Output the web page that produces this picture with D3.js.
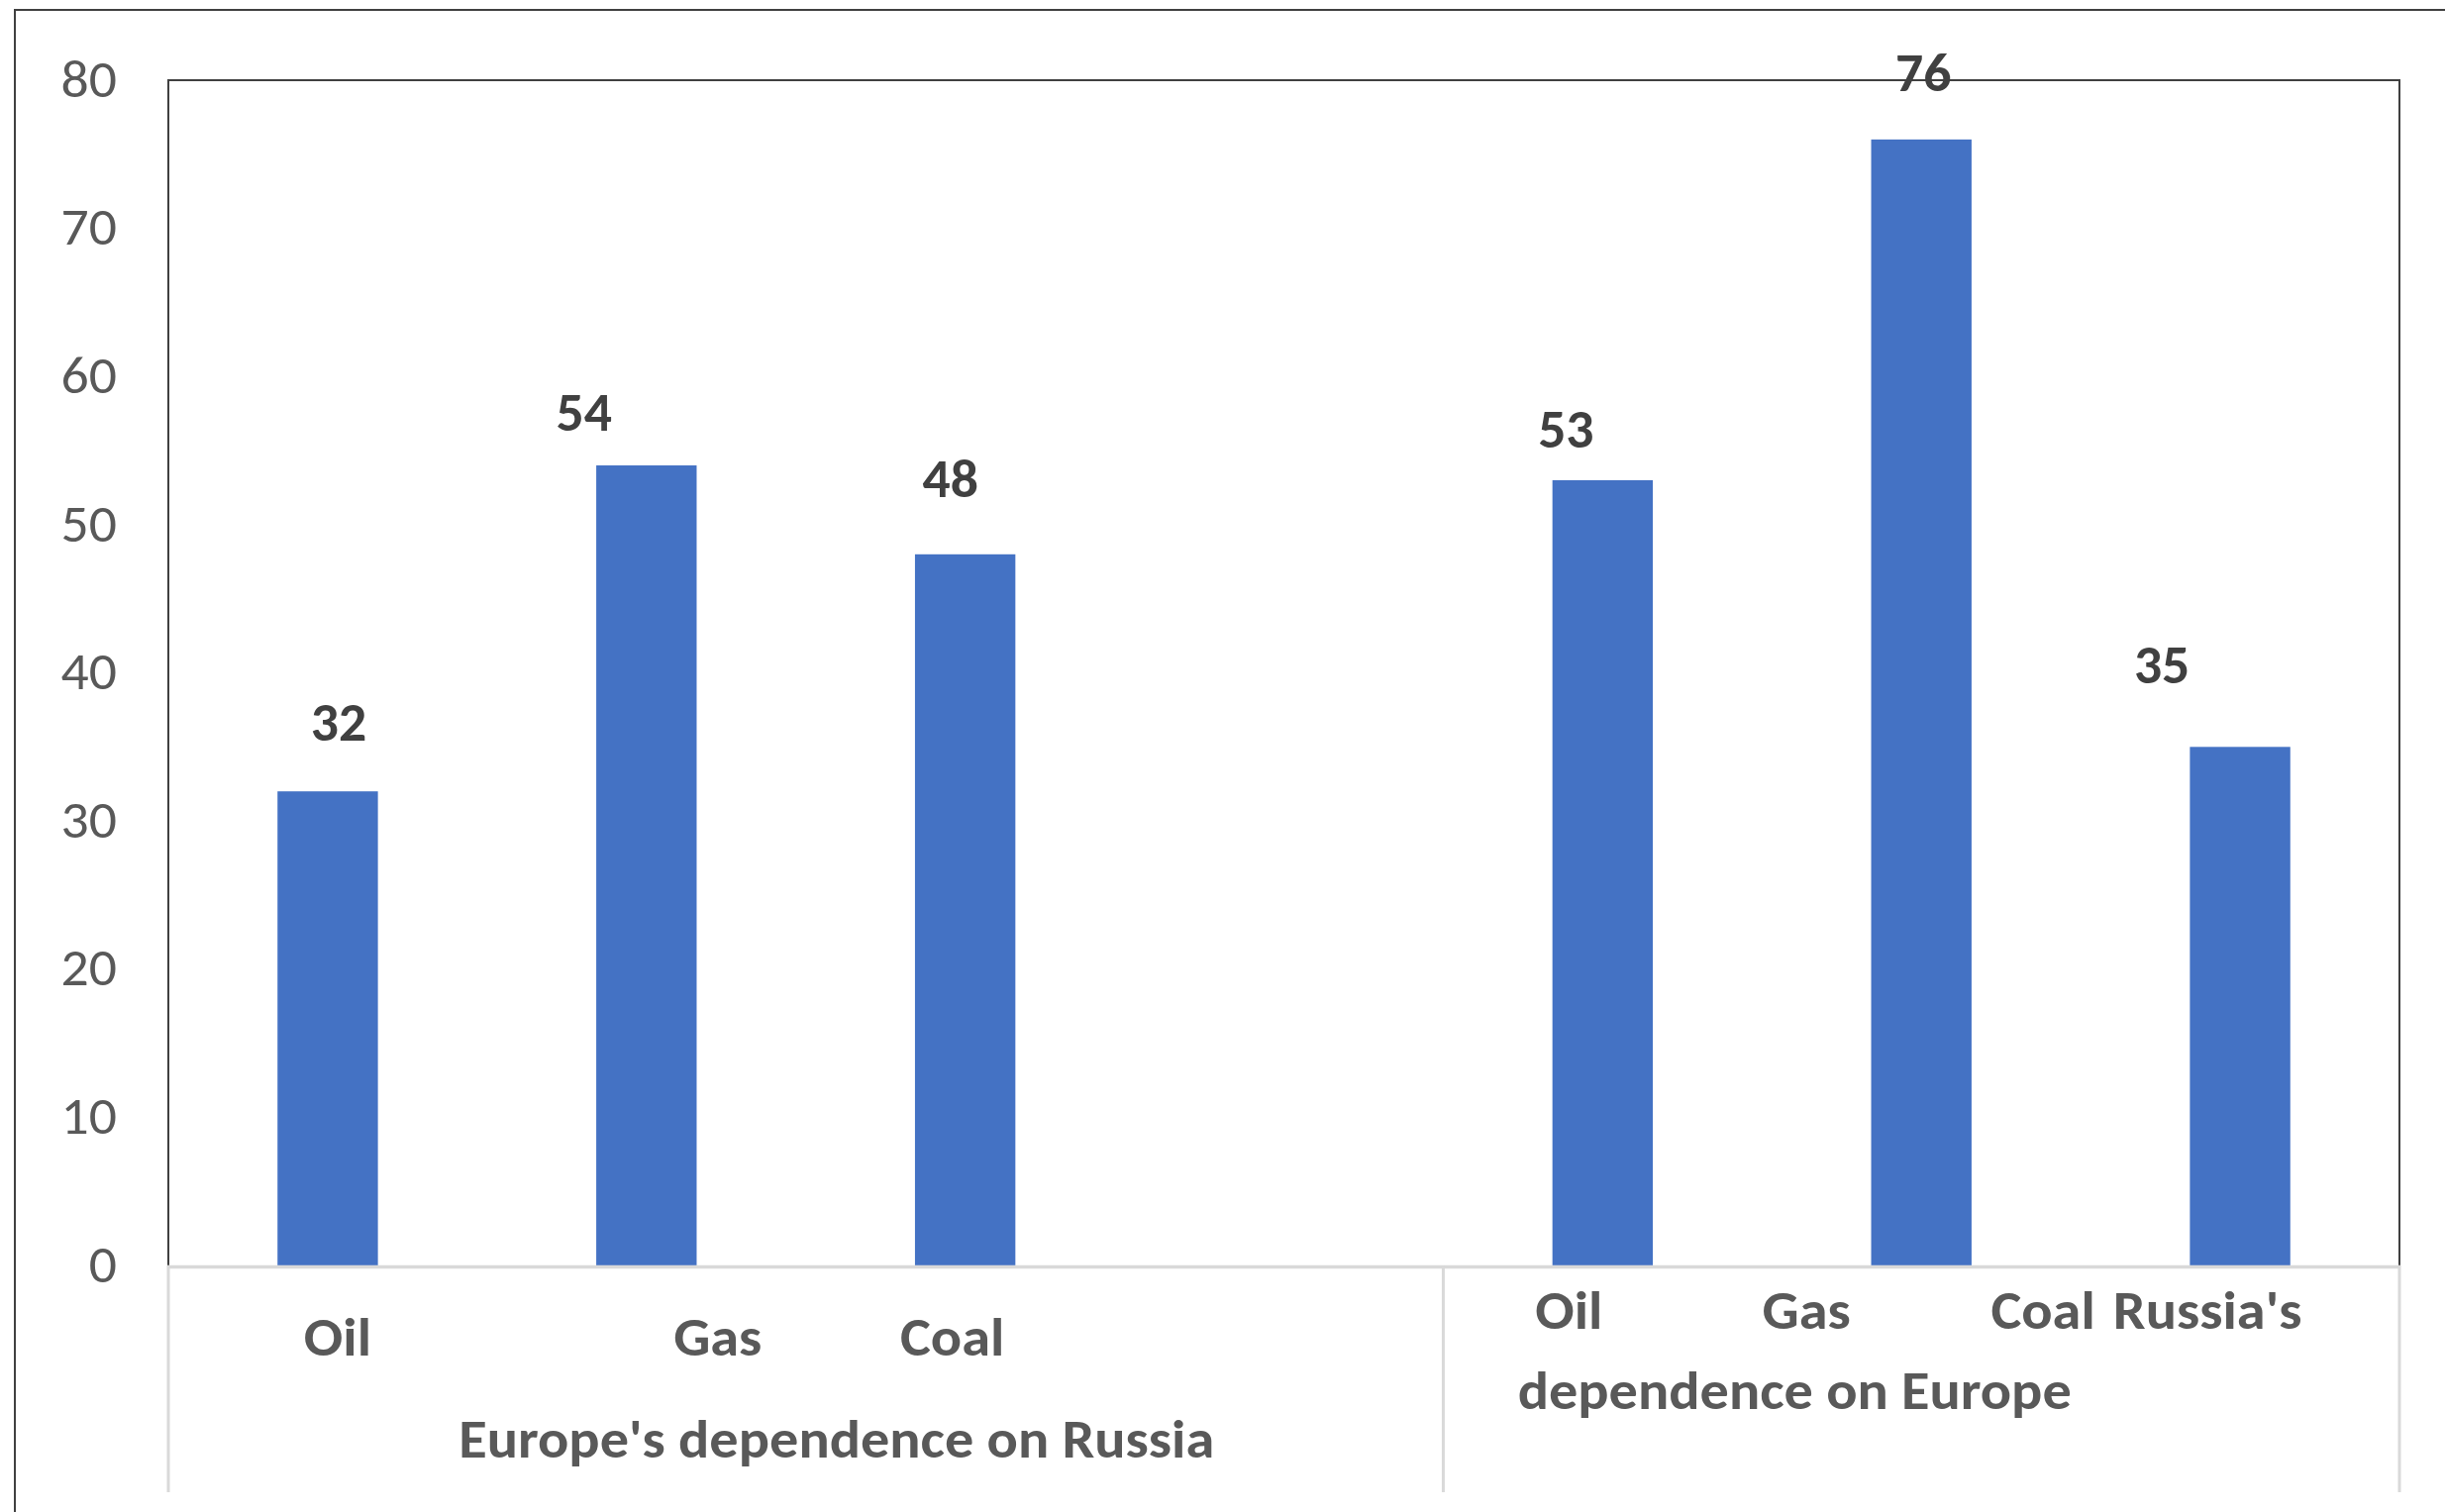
<!DOCTYPE html>
<html>
<head>
<meta charset="utf-8">
<script src="https://cdn.jsdelivr.net/npm/d3@7"></script>
<style>
  html, body { margin: 0; padding: 0; background: #fff; }
  svg { display: block; font-family: Carlito, Calibri, Lato, sans-serif; }
</style>
</head>
<body>
<svg id="chart" width="2469" height="1527"></svg>
<script>
// Energy dependence, two groups of bars on one category axis.
// Slot 4 of the first group is empty in the source sheet.
const slots = ["eu-oil", "eu-gas", "eu-coal", "eu-blank", "ru-oil", "ru-gas", "ru-coal"];
const categories = ["Oil", "Gas", "Coal", "", "Oil", "Gas", "Coal"];
const values = [32, 54, 48, null, 53, 76, 35];
const groupNames = ["Europe's dependence on Russia", "Russia's dependence on Europe"];
const groupOf = [0, 0, 0, 0, 1, 1, 1];
const yTicks = [0, 10, 20, 30, 40, 50, 60, 70, 80];

// hand-placed label nudges (the source chart had its labels dragged around)
const valueNudge = [[11, -51], [-63, -35], [-15, -58], null, [-37, -33], [2, -49], [-79, -64]];
const catNudge = [10, 72, -13, 0, -34, -116, -199];

const W = 2469, H = 1527;
const plot = { left: 170, top: 81, right: 2423, bottom: 1278 };
const axisFoot = 1507;

const svg = d3.select("#chart");

// Lato stands in for Calibri; widen it a touch so label widths line up
function widen(sel, k) {
  sel.each(function () {
    const n = this.getComputedTextLength();
    d3.select(this).attr("textLength", n * k).attr("lengthAdjust", "spacingAndGlyphs");
  });
}

const x = d3.scaleBand().domain(slots).range([plot.left, plot.right]).paddingInner(0).paddingOuter(0);
const y = d3.scaleLinear().domain([0, 80]).range([plot.bottom, plot.top]);
const barW = x.bandwidth() * 0.315;

// outer chart frame (runs off the right / bottom of the picture)
svg.append("rect")
  .attr("x", 15).attr("y", 10).attr("width", W).attr("height", H)
  .attr("fill", "none").attr("stroke", "#404040").attr("stroke-width", 2);

// bars
const rows = slots.map((s, i) => ({ slot: s, cat: categories[i], v: values[i], i }))
  .filter((d) => d.v != null);

svg.append("g").selectAll("rect")
  .data(rows)
  .join("rect")
  .attr("x", (d) => x(d.slot) + x.bandwidth() / 2 - barW / 2)
  .attr("y", (d) => y(d.v))
  .attr("width", barW)
  .attr("height", (d) => y(0) - y(d.v))
  .attr("fill", "#4472C4");

// plot frame: dark top / left / right, light category axis along the bottom
const frame = svg.append("g").attr("fill", "none");
frame.append("path")
  .attr("d", `M${plot.left},${plot.bottom} V${plot.top} H${plot.right} V${plot.bottom}`)
  .attr("stroke", "#404040").attr("stroke-width", 2);

// y axis labels
const yAxis = d3.axisLeft(y).tickValues(yTicks).tickSize(0).tickPadding(52);
svg.append("g")
  .attr("transform", `translate(${plot.left},0)`)
  .call(yAxis)
  .call((g) => g.select(".domain").remove())
  .selectAll("text")
  .attr("font-family", "Carlito, Calibri, Lato, sans-serif")
  .attr("font-size", 54)
  .attr("fill", "#595959")
  .attr("dy", "0.3em")
  .call(widen, 1.03);

// category axis: baseline + group separators
const light = "#D9D9D9";
const groupEdges = [plot.left, x("ru-oil"), plot.right];
svg.append("line")
  .attr("x1", plot.left - 1).attr("x2", plot.right + 1)
  .attr("y1", plot.bottom + 1.5).attr("y2", plot.bottom + 1.5)
  .attr("stroke", light).attr("stroke-width", 3.5);
svg.append("g").selectAll("line")
  .data(groupEdges)
  .join("line")
  .attr("x1", (d) => d).attr("x2", (d) => d)
  .attr("y1", plot.bottom).attr("y2", axisFoot)
  .attr("stroke", light).attr("stroke-width", 3);

// value labels
svg.append("g").selectAll("text")
  .data(rows)
  .join("text")
  .attr("x", (d) => x(d.slot) + x.bandwidth() / 2 + valueNudge[d.i][0])
  .attr("y", (d) => y(d.v) + valueNudge[d.i][1])
  .attr("text-anchor", "middle")
  .attr("font-size", 54)
  .attr("font-weight", 700)
  .attr("fill", "#404040")
  .text((d) => d3.format("d")(d.v))
  .call(widen, 1.03);

// category labels (first row)
const catRow = [1369, 1342];
svg.append("g").selectAll("text")
  .data(slots.map((s, i) => ({ s, i, c: categories[i] })).filter((d) => d.c))
  .join("text")
  .attr("x", (d) => x(d.s) + x.bandwidth() / 2 + catNudge[d.i])
  .attr("y", (d) => catRow[groupOf[d.i]])
  .attr("text-anchor", "middle")
  .attr("font-size", 54)
  .attr("font-weight", 700)
  .attr("fill", "#595959")
  .text((d) => d.c)
  .call(widen, 1.08);

// group labels (second row); the right one wraps so "Russia's" sits on the first row
const gx = (g) => (groupEdges[g] + groupEdges[g + 1]) / 2;
const groupText = svg.append("g")
  .attr("font-size", 54).attr("font-weight", 700).attr("fill", "#595959")
  .attr("text-anchor", "middle");
groupText.append("text")
  .attr("x", gx(0) + 31).attr("y", 1472)
  .text(groupNames[0]);
const [first, ...rest] = groupNames[1].split(" ");
groupText.append("text")
  .attr("x", gx(1) + 289).attr("y", 1342)
  .text(first);
groupText.append("text")
  .attr("x", gx(1) - 128).attr("y", 1423)
  .text(rest.join(" "));
groupText.selectAll("text").call(widen, 1.08);
</script>
</body>
</html>
